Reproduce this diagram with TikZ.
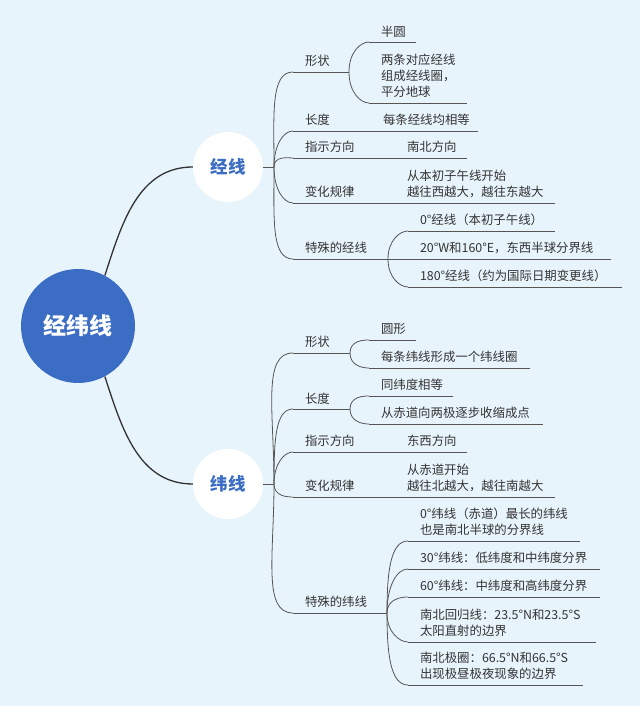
\documentclass[tikz,border=0pt]{standalone}
\usepackage{fontspec}
\setmainfont{Noto Sans CJK SC}
\usetikzlibrary{topaths}
\definecolor{bgblue}{HTML}{E8F4FC}
\definecolor{topicblue}{HTML}{3A6DC3}
\definecolor{inkgrey}{HTML}{333333}
\definecolor{linegrey}{HTML}{555555}
\tikzstyle{root}=[circle, fill=topicblue, minimum size=114pt, inner sep=0pt, text=white, font=\fontsize{23}{23}\selectfont\bfseries]
\tikzstyle{topic}=[circle, fill=white, minimum size=70pt, inner sep=0pt, text=topicblue, font=\fontsize{17.5}{17.5}\selectfont\bfseries]
\tikzstyle{link}=[draw=linegrey, line width=0.8pt]
\tikzstyle{stem}=[draw=inkgrey, line width=1.3pt]
\tikzstyle{branch}=[out looseness=1.4, in looseness=0.6]
\tikzset{item/.style={anchor=south west, inner xsep=12pt, inner ysep=5pt, outer sep=0pt, align=left, text=inkgrey, font=\fontsize{12.4}{16}\selectfont, text width=#1}}

\begin{document}
\begin{tikzpicture}[x=1pt, y=1pt]
    \fill [bgblue] (0,0) rectangle (640,706);
    \useasboundingbox (0,0) rectangle (640,706);
    % main topics
    \node [root] (root) at (78,380) {经纬线};
    \node [topic] (jx) at (228,539) {经线};
    \node [topic] (wx) at (228,222) {纬线};
    \coordinate (jxf) at (274,539);
    \coordinate (wxf) at (274,222);
    % 经线
    \node [item=32pt] (jxs) at (293,634) {形状};
    \node [item=23pt] (jxs1) at (369,664) {半圆};
    \node [item=74pt] (jxs2) at (369,603) {两条对应经线\\组成经线圈，\\平分地球};
    \node [item=54pt] (jxl) at (293,575) {长度};
    \node [item=83pt] (jxl1) at (jxl.south east) {每条经线均相等};
    \node [item=78pt] (jxd) at (293,548) {指示方向};
    \node [item=48pt] (jxd1) at (jxd.south east) {南北方向};
    \node [item=78pt] (jxr) at (293,503) {变化规律};
    \node [item=136pt] (jxr1) at (jxr.south east) {从本初子午线开始\\越往西越大，越往东越大};
    \node [item=71pt] (jxt) at (293,447) {特殊的经线};
    \node [item=123pt] (jxt1) at (408,475) {0°经线（本初子午线）};
    \node [item=179pt] (jxt2) at (408,447) {20°W和160°E，东西半球分界线};
    \node [item=190pt] (jxt3) at (408,419) {180°经线（约为国际日期变更线）};
    % 纬线
    \node [item=33pt] (wxs) at (293,353) {形状};
    \node [item=23pt] (wxs1) at (369,366) {圆形};
    \node [item=137pt] (wxs2) at (369,338) {每条纬线形成一个纬线圈};
    \node [item=33pt] (wxl) at (293,297) {长度};
    \node [item=60pt] (wxl1) at (369,310) {同纬度相等};
    \node [item=150pt] (wxl2) at (369,282) {从赤道向两极逐步收缩成点};
    \node [item=78pt] (wxd) at (293,254) {指示方向};
    \node [item=48pt] (wxd1) at (wxd.south east) {东西方向};
    \node [item=78pt] (wxr) at (293,209) {变化规律};
    \node [item=136pt] (wxr1) at (wxr.south east) {从赤道开始\\越往北越大，越往南越大};
    \node [item=70pt] (wxt) at (293,93) {特殊的纬线};
    \node [item=148pt] (wxt1) at (408,165) {0°纬线（赤道）最长的纬线\\也是南北半球的分界线};
    \node [item=168pt] (wxt2) at (408,137) {30°纬线：低纬度和中纬度分界};
    \node [item=168pt] (wxt3) at (408,109) {60°纬线：中纬度和高纬度分界};
    \node [item=164pt] (wxt4) at (408,64) {南北回归线：23.5°N和23.5°S\\太阳直射的边界};
    \node [item=151pt] (wxt5) at (408,21) {南北极圈：66.5°N和66.5°S\\出现极昼极夜现象的边界};
    % underlines
    \foreach \n in {jxs,jxs1,jxs2,jxl,jxl1,jxd,jxd1,jxr,jxr1,jxt,jxt1,jxt2,jxt3,
        wxs,wxs1,wxs2,wxl,wxl1,wxl2,wxd,wxd1,wxr,wxr1,wxt,wxt1,wxt2,wxt3,wxt4,wxt5}
        \draw [link] (\n.south west) -- (\n.south east);
    % connectors
    \draw [stem] (root.62) to[out=72,in=180] (jx.west);
    \draw [stem] (root.-62) to[out=-72,in=180] (wx.west);
    \draw [link] (jx.east) -- (jxf);
    \draw [link] (wx.east) -- (wxf);
    \foreach \n in {jxs,jxl,jxd}
        \draw [link] (jxf) to[out=90,in=180,branch] (\n.south west);
    \foreach \n in {jxr,jxt}
        \draw [link] (jxf) to[out=-90,in=180,branch] (\n.south west);
    \foreach \n in {wxs,wxl,wxd}
        \draw [link] (wxf) to[out=90,in=180,branch] (\n.south west);
    \foreach \n in {wxr,wxt}
        \draw [link] (wxf) to[out=-90,in=180,branch] (\n.south west);
    \draw [link] (jxs.south east) to[out=90,in=180,branch] (jxs1.south west);
    \draw [link] (jxs.south east) to[out=-90,in=180,branch] (jxs2.south west);
    \draw [link] (jxt.south east) to[out=90,in=180,branch] (jxt1.south west);
    \draw [link] (jxt.south east) -- (jxt2.south west);
    \draw [link] (jxt.south east) to[out=-90,in=180,branch] (jxt3.south west);
    \draw [link] (wxs.south east) to[out=90,in=180,branch] (wxs1.south west);
    \draw [link] (wxs.south east) to[out=-90,in=180,branch] (wxs2.south west);
    \draw [link] (wxl.south east) to[out=90,in=180,branch] (wxl1.south west);
    \draw [link] (wxl.south east) to[out=-90,in=180,branch] (wxl2.south west);
    \foreach \n in {wxt1,wxt2,wxt3}
        \draw [link] (wxt.south east) to[out=90,in=180,branch] (\n.south west);
    \foreach \n in {wxt4,wxt5}
        \draw [link] (wxt.south east) to[out=-90,in=180,branch] (\n.south west);
\end{tikzpicture}
\end{document}
